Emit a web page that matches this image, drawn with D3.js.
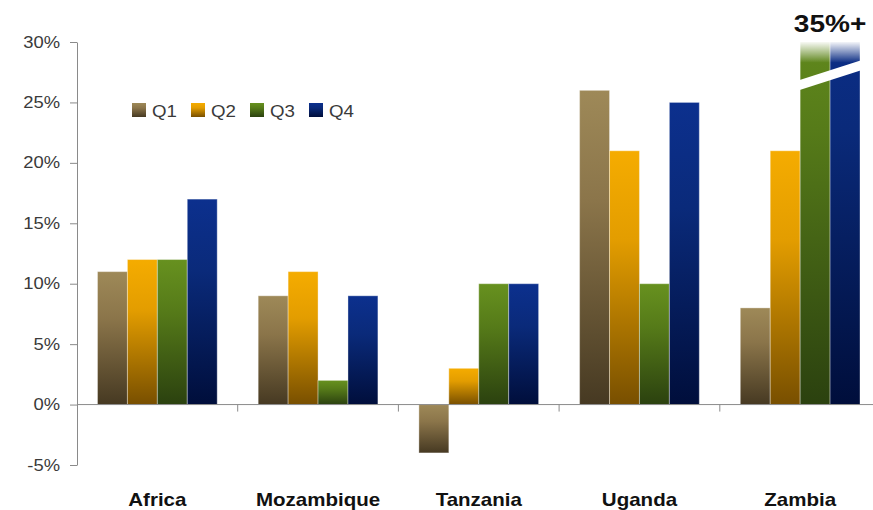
<!DOCTYPE html>
<html>
<head>
<meta charset="utf-8">
<script src="https://cdn.jsdelivr.net/npm/d3@7"></script>
<style>
  html, body { margin: 0; padding: 0; background: #fff; }
  svg { display: block; font-family: "Liberation Sans", Arial, sans-serif; }
</style>
</head>
<body>
<svg id="chart" width="873" height="510"></svg>
<script>
// Growth by market and quarter (%)
const categories = ["Africa", "Mozambique", "Tanzania", "Uganda", "Zambia"];
const quarters = ["Q1", "Q2", "Q3", "Q4"];
const q1 = [11, 9, -4, 26, 8];
const q2 = [12, 11, 3, 21, 21];
const q3 = [12, 2, 10, 10, 35];
const q4 = [17, 9, 10, 25, 35];
const yTicks = [-5, 0, 5, 10, 15, 20, 25, 30];
const capLabel = "35%+";

const series = [q1, q2, q3, q4];
const colours = {
  Q1: ["#9e8958", "#8b754a", "#463922"],
  Q2: ["#f5ac00", "#e39d00", "#784f00"],
  Q3: ["#67911f", "#567b19", "#2b410f"],
  Q4: ["#0c308e", "#0a2a7a", "#000e3b"]
};

const svg = d3.select("#chart");
const plotLeft = 77, plotRight = 880.5, plotTop = 42, plotBottom = 465;
const yMax = 30, yMin = -5;

const x = d3.scaleBand().domain(categories).range([plotLeft, plotRight]);
const xq = d3.scaleBand().domain(quarters).range([20.5, x.bandwidth() - 20.5]);
const y = d3.scaleLinear().domain([yMin, yMax]).range([plotBottom, plotTop]);

// Vertical gradients, one per quarter, stretched over each bar
const defs = svg.append("defs");
quarters.forEach(q => {
  const g = defs.append("linearGradient")
    .attr("id", "grad-" + q)
    .attr("x1", 0).attr("y1", 0).attr("x2", 0).attr("y2", 1);
  g.append("stop").attr("offset", "0%").attr("stop-color", colours[q][0]);
  g.append("stop").attr("offset", "35%").attr("stop-color", colours[q][1]);
  g.append("stop").attr("offset", "100%").attr("stop-color", colours[q][2]);
});
const fade = defs.append("linearGradient")
  .attr("id", "fade").attr("x1", 0).attr("y1", 0).attr("x2", 0).attr("y2", 1);
fade.append("stop").attr("offset", "0%").attr("stop-color", "#fff").attr("stop-opacity", 1);
fade.append("stop").attr("offset", "100%").attr("stop-color", "#fff").attr("stop-opacity", 0);

defs.append("clipPath").attr("id", "plot-clip")
  .append("rect")
  .attr("x", plotLeft).attr("y", y(yMax))
  .attr("width", plotRight - plotLeft).attr("height", y(yMin) - y(yMax));

// Bars
const rows = [];
categories.forEach((c, i) => {
  quarters.forEach((q, j) => rows.push({ cat: c, q: q, v: series[j][i] }));
});

svg.append("g").attr("clip-path", "url(#plot-clip)")
  .selectAll("rect")
  .data(rows)
  .join("rect")
  .attr("x", d => x(d.cat) + xq(d.q))
  .attr("width", xq.bandwidth())
  .attr("y", d => y(Math.max(0, d.v)))
  .attr("height", d => Math.abs(y(d.v) - y(0)))
  .attr("fill", d => "url(#grad-" + d.q + ")")
  .attr("stroke", "rgba(255,255,255,0.35)")
  .attr("stroke-width", 1);

// Bars beyond the axis: fade at the top and a break stripe
const over = rows.filter(d => d.v > yMax);
if (over.length) {
  const x0 = d3.min(over, d => x(d.cat) + xq(d.q));
  const x1 = d3.max(over, d => x(d.cat) + xq(d.q) + xq.bandwidth());
  svg.append("rect")
    .attr("x", x0 - 1).attr("y", y(yMax) - 1)
    .attr("width", x1 - x0 + 2).attr("height", y(28.2) - y(yMax))
    .attr("fill", "url(#fade)");
  const yl = y(26.45), yr = y(28.05), half = 5;
  svg.append("polygon")
    .attr("points", [
      [x0 - 2, yl - half + 0.5], [x1 + 2, yr - half - 0.5],
      [x1 + 2, yr + half - 0.5], [x0 - 2, yl + half + 0.5]
    ].map(p => p.join(",")).join(" "))
    .attr("fill", "#fff");
  const cx = (x0 + x1) / 2;
  svg.append("text")
    .attr("transform", `translate(${cx},${y(yMax) - 10}) scale(1.17,1)`)
    .attr("text-anchor", "middle")
    .attr("font-size", 24).attr("font-weight", "bold")
    .attr("fill", "#111")
    .text(capLabel);
}

// Y axis
const yAxis = svg.append("g")
  .attr("transform", `translate(${plotLeft},0)`)
  .call(d3.axisLeft(y).tickValues(yTicks).tickSize(7).tickSizeOuter(0)
    .tickFormat(d => d + "%"));
yAxis.select(".domain").attr("stroke", "#8a8a8a");
yAxis.selectAll(".tick line").attr("stroke", "#8a8a8a");
yAxis.selectAll(".tick text")
  .attr("x", 0)
  .attr("transform", "translate(-17,0) scale(1.15,1)")
  .attr("font-size", 16)
  .attr("font-family", "Liberation Sans, Arial, sans-serif")
  .attr("fill", "#3a3a3a");

// Zero line with category separators
svg.append("line")
  .attr("x1", plotLeft).attr("x2", 873)
  .attr("y1", y(0)).attr("y2", y(0))
  .attr("stroke", "#8a8a8a");
svg.append("g").selectAll("line")
  .data(categories.slice(1))
  .join("line")
  .attr("x1", d => x(d)).attr("x2", d => x(d))
  .attr("y1", y(0)).attr("y2", y(0) + 7)
  .attr("stroke", "#8a8a8a");

// Category labels
svg.append("g").selectAll("text")
  .data(categories)
  .join("text")
  .attr("transform", d => `translate(${x(d) + x.bandwidth() / 2},506) scale(1.14,1)`)
  .attr("text-anchor", "middle")
  .attr("font-size", 18).attr("font-weight", "bold")
  .attr("fill", "#111")
  .text(d => d);

// Legend
const legend = svg.append("g").attr("transform", "translate(132,103)");
const item = legend.selectAll("g")
  .data(quarters)
  .join("g")
  .attr("transform", (d, i) => `translate(${i * 59},0)`);
item.append("rect")
  .attr("width", 14).attr("height", 14)
  .attr("fill", d => "url(#grad-" + d + ")");
item.append("text")
  .attr("transform", "translate(20,13.5) scale(1.1,1)")
  .attr("font-size", 17)
  .attr("fill", "#3a3a3a")
  .text(d => d);
</script>
</body>
</html>
